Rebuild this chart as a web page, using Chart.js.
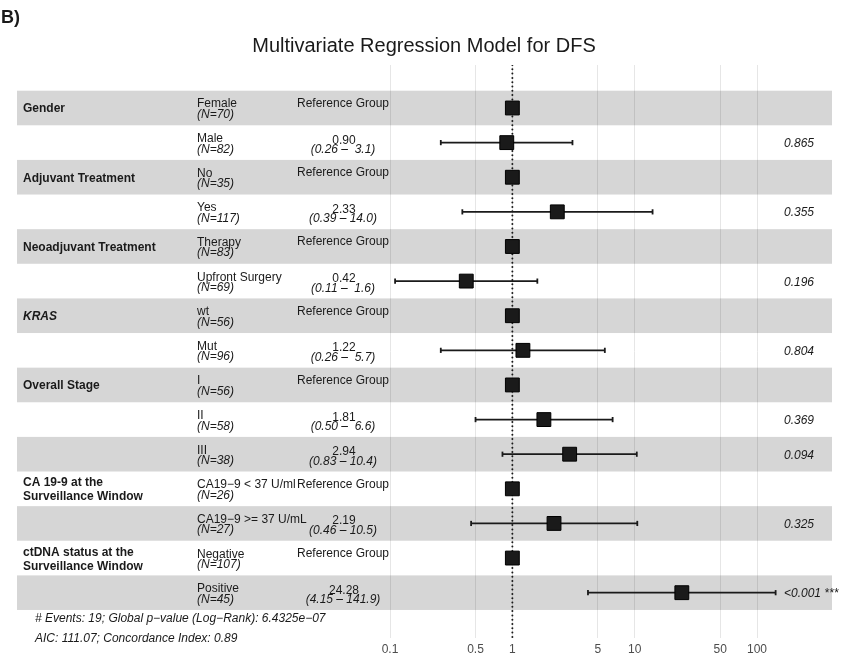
<!DOCTYPE html>
<html>
<head>
<meta charset="utf-8">
<script src="https://cdn.jsdelivr.net/npm/chart.js@4"></script>
<style>
    body { margin: 0; background: #fff; }
    #wrap { width: 852px; height: 669px; position: relative; }
</style>
</head>
<body>
<div id="wrap"><canvas id="forest-chart"></canvas></div>
<script>
// one entry per variable, with how many level rows it spans
const groups = ['Gender', 'Adjuvant Treatment', 'Neoadjuvant Treatment', 'KRAS', 'Overall Stage',
    'CA 19-9 at the\nSurveillance Window', 'ctDNA status at the\nSurveillance Window'];
const groupSizes = [2, 2, 2, 2, 3, 2, 2];

// one entry per row
const levels = ['Female', 'Male', 'No', 'Yes', 'Therapy', 'Upfront Surgery', 'wt', 'Mut',
    'I', 'II', 'III', 'CA19\u22129 < 37 U/ml', 'CA19\u22129 >= 37 U/mL', 'Negative', 'Positive'];
const counts = [70, 82, 35, 117, 83, 69, 56, 96, 56, 58, 38, 26, 27, 107, 45];
const hazardRatios = [1, 0.90, 1, 2.33, 1, 0.42, 1, 1.22, 1, 1.81, 2.94, 1, 2.19, 1, 24.28];
const ciLower = [null, 0.26, null, 0.39, null, 0.11, null, 0.26, null, 0.50, 0.83, null, 0.46, null, 4.15];
const ciUpper = [null, 3.1, null, 14.0, null, 1.6, null, 5.7, null, 6.6, 10.4, null, 10.5, null, 141.9];
const pValues = [null, '0.865', null, '0.355', null, '0.196', null, '0.804', null, '0.369', '0.094',
    null, '0.325', null, '<0.001 ***'];

const xTicks = [0.1, 0.5, 1, 5, 10, 50, 100];

const footnotes = ['# Events: 19; Global p\u2212value (Log\u2212Rank): 6.4325e\u221207',
    'AIC: 111.07; Concordance Index: 0.89'];

const FONT = '"Liberation Sans", Arial, Helvetica, sans-serif';
const INK = '#1a1a1a';

// y range chosen so rows sit where the table rows are
const yMin = -1.242;
const yMax = 15.309;

function buildDatasets() {
    const sets = [];
    sets.push({
        label: 'HR',
        order: 0,
        data: hazardRatios.map((hr, i) => ({ x: hr, y: i })),
        pointStyle: 'rect',
        pointRadius: 9.8,
        pointHoverRadius: 9.8,
        backgroundColor: INK,
        borderColor: '#000',
        borderWidth: 1
    });
    hazardRatios.forEach((hr, i) => {
        if (ciLower[i] === null) return;
        sets.push({
            label: 'CI ' + levels[i],
            order: 1,
            showLine: true,
            data: [{ x: ciLower[i], y: i }, { x: ciUpper[i], y: i }],
            borderColor: INK,
            borderWidth: 1.8,
            pointStyle: 'line',
            rotation: 90,
            pointRadius: 2.6,
            pointBorderWidth: 1.8,
            pointBorderColor: INK
        });
    });
    sets.push({
        label: 'ref',
        order: 2,
        showLine: true,
        data: [{ x: 1, y: yMin }, { x: 1, y: yMax }],
        borderColor: INK,
        borderWidth: 2,
        borderDash: [0, 4.3],
        borderCapStyle: 'round',
        pointRadius: 0
    });
    return sets;
}

const bandsPlugin = {
    id: 'bands',
    beforeDatasetsDraw(chart) {
        const { ctx, chartArea, scales } = chart;
        ctx.save();
        ctx.fillStyle = 'rgba(0,0,0,0.16)';
        levels.forEach((lv, i) => {
            if (i % 2 !== 0) return;
            const top = scales.y.getPixelForValue(i - 0.5);
            const bottom = scales.y.getPixelForValue(i + 0.5);
            ctx.fillRect(chartArea.left, top, chartArea.right - chartArea.left, bottom - top);
        });
        ctx.restore();
    }
};

const tablePlugin = {
    id: 'table',
    afterDraw(chart) {
        const { ctx, scales } = chart;
        const rowY = (i) => scales.y.getPixelForValue(i);
        ctx.save();
        ctx.fillStyle = INK;

        // panel tag and title
        ctx.textAlign = 'left';
        ctx.font = 'bold 18px ' + FONT;
        ctx.fillText('B)', 1, 23);
        ctx.textAlign = 'center';
        ctx.font = '20px ' + FONT;
        ctx.fillText('Multivariate Regression Model for DFS', 424, 52);

        // variable names
        let row = 0;
        groups.forEach((name, g) => {
            const c = rowY(row);
            const lines = name.split('\n');
            ctx.textAlign = 'left';
            ctx.font = (name === 'KRAS' ? 'italic ' : '') + 'bold 12px ' + FONT;
            lines.forEach((ln, k) => {
                const off = 4.5 + (k - (lines.length - 1) / 2) * 14;
                ctx.fillText(ln, 23, c + off);
            });
            row += groupSizes[g];
        });

        levels.forEach((lv, i) => {
            const c = rowY(i);
            ctx.textAlign = 'left';
            ctx.font = '12px ' + FONT;
            ctx.fillText(lv, 197, c - 0.5);
            ctx.font = 'italic 12px ' + FONT;
            ctx.fillText('(N=' + counts[i] + ')', 197, c + 10);

            ctx.textAlign = 'center';
            if (ciLower[i] === null) {
                ctx.font = '12px ' + FONT;
                ctx.fillText('Reference Group', 343, c - 1);
            } else {
                ctx.font = '12px ' + FONT;
                ctx.fillText(hazardRatios[i].toFixed(2), 344, c + 1);
                ctx.font = 'italic 12px ' + FONT;
                const ci = '(' + ciLower[i].toFixed(2) + ' \u2013 ' + ciUpper[i].toFixed(1).padStart(4, ' ') + ')';
                ctx.fillText(ci, 343, c + 10.5);
            }

            if (pValues[i] !== null) {
                ctx.textAlign = 'left';
                ctx.font = 'italic 12px ' + FONT;
                ctx.fillText(pValues[i], 784, c + 4.5);
            }
        });

        ctx.textAlign = 'left';
        ctx.font = 'italic 12px ' + FONT;
        ctx.fillText(footnotes[0], 35, 622);
        ctx.fillText(footnotes[1], 35, 642);
        ctx.restore();
    }
};

function drawChart() {
    const ctx = document.getElementById('forest-chart').getContext('2d');
    window.forestChart = new Chart(ctx, {
        type: 'scatter',
        data: { datasets: buildDatasets() },
        plugins: [bandsPlugin, tablePlugin],
        options: {
            responsive: true,
            maintainAspectRatio: false,
            animation: false,
            layout: { padding: { left: 17, right: 20, top: 65, bottom: 11 } },
            plugins: {
                legend: { display: false },
                tooltip: { enabled: false }
            },
            scales: {
                x: {
                    type: 'logarithmic',
                    min: 8.93e-5,
                    max: 410,
                    afterBuildTicks: (scale) => {
                        scale.ticks = xTicks.map(v => ({ value: v }));
                    },
                    afterFit: (scale) => { scale.height = 20; },
                    grid: { color: '#e6e6e6', lineWidth: 1, drawTicks: false },
                    border: { display: false },
                    ticks: {
                        autoSkip: false,
                        maxRotation: 0,
                        padding: 4,
                        color: '#4d4d4d',
                        font: { family: FONT, size: 12 },
                        callback: (v) => String(v)
                    }
                },
                y: {
                    type: 'linear',
                    display: false,
                    reverse: true,
                    min: yMin,
                    max: yMax
                }
            }
        }
    });
}

drawChart();
</script>
</body>
</html>
